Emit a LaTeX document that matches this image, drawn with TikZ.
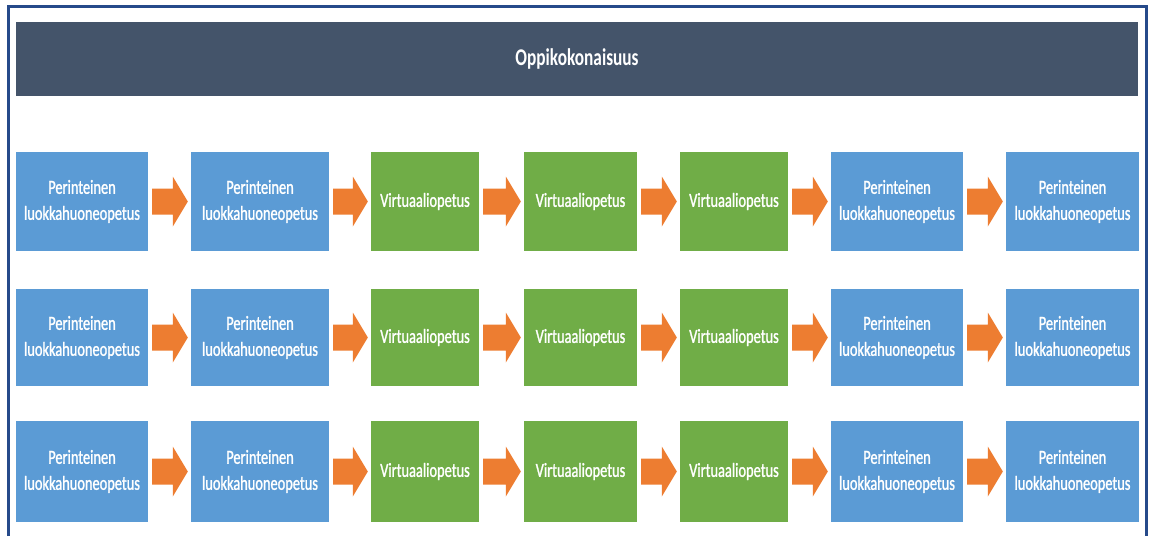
\documentclass[tikz,border=0pt]{standalone}
\usepackage{fontspec}
\setmainfont{Carlito}
\newfontfamily\boxfont[FakeStretch=0.72,FakeBold=1.2]{Carlito}
\newfontfamily\titlefont[FakeStretch=0.72]{Carlito Bold}
\usetikzlibrary{calc}

\definecolor{framec}{HTML}{264A8A}
\definecolor{titlec}{HTML}{44546A}
\definecolor{classc}{HTML}{5B9BD5}
\definecolor{virtc}{HTML}{70AD47}
\definecolor{arrowc}{HTML}{ED7D31}

\tikzset{
  x=1pt, y=-1pt,
  titlebar/.style={fill=titlec, text=white, inner sep=0pt,
    minimum width=1122pt, minimum height=74pt,
    font=\titlefont\fontsize{24}{28}\selectfont},
  unit/.style={text=white, inner sep=0pt, align=center,
    font=\boxfont\fontsize{20}{26}\selectfont},
  classbox/.style={unit, fill=classc},
  virtbox/.style={unit, fill=virtc},
  flowarrow/.style={fill=arrowc}
}

% block arrow between two boxes: shaft, then a triangular head ending at the next box
\newcommand{\flowstep}[2]{%
  \fill[flowarrow]
    ($(#1.east)+(4,-13)$)
    -- ($(#2.west)+(-18,-13)$) -- ($(#2.west)+(-18,-25)$)
    -- ($(#2.west)+(-3,0)$)
    -- ($(#2.west)+(-18,25)$) -- ($(#2.west)+(-18,13)$)
    -- ($(#1.east)+(4,13)$) -- cycle;}

\begin{document}
\begin{tikzpicture}
\useasboundingbox[fill=white] (0,0) rectangle (1149,536);

% outer frame, open at the bottom
\draw[framec, line width=2.6pt] (8.5,536) -- (8.5,6.5) -- (1146.5,6.5) -- (1146.5,536);

\node[titlebar] (title) at (577,59.3) {Oppikokonaisuus};

\foreach \r/\cy/\h in {1/201.5/99, 2/337.5/97, 3/471.5/101}{
  \node[classbox, minimum width=132pt, minimum height=\h pt] (r\r c1) at (82,\cy)
    {Perinteinen\\luokkahuoneopetus};
  \node[classbox, minimum width=138pt, minimum height=\h pt] (r\r c2) at (260,\cy)
    {Perinteinen\\luokkahuoneopetus};
  \node[virtbox, minimum width=108pt, minimum height=\h pt] (r\r c3) at (425,\cy)
    {Virtuaaliopetus};
  \node[virtbox, minimum width=113pt, minimum height=\h pt] (r\r c4) at (580.5,\cy)
    {Virtuaaliopetus};
  \node[virtbox, minimum width=108pt, minimum height=\h pt] (r\r c5) at (734,\cy)
    {Virtuaaliopetus};
  \node[classbox, minimum width=132pt, minimum height=\h pt] (r\r c6) at (897,\cy)
    {Perinteinen\\luokkahuoneopetus};
  \node[classbox, minimum width=133pt, minimum height=\h pt] (r\r c7) at (1072.5,\cy)
    {Perinteinen\\luokkahuoneopetus};
  \flowstep{r\r c1}{r\r c2}
  \flowstep{r\r c2}{r\r c3}
  \flowstep{r\r c3}{r\r c4}
  \flowstep{r\r c4}{r\r c5}
  \flowstep{r\r c5}{r\r c6}
  \flowstep{r\r c6}{r\r c7}
}
\end{tikzpicture}
\end{document}
